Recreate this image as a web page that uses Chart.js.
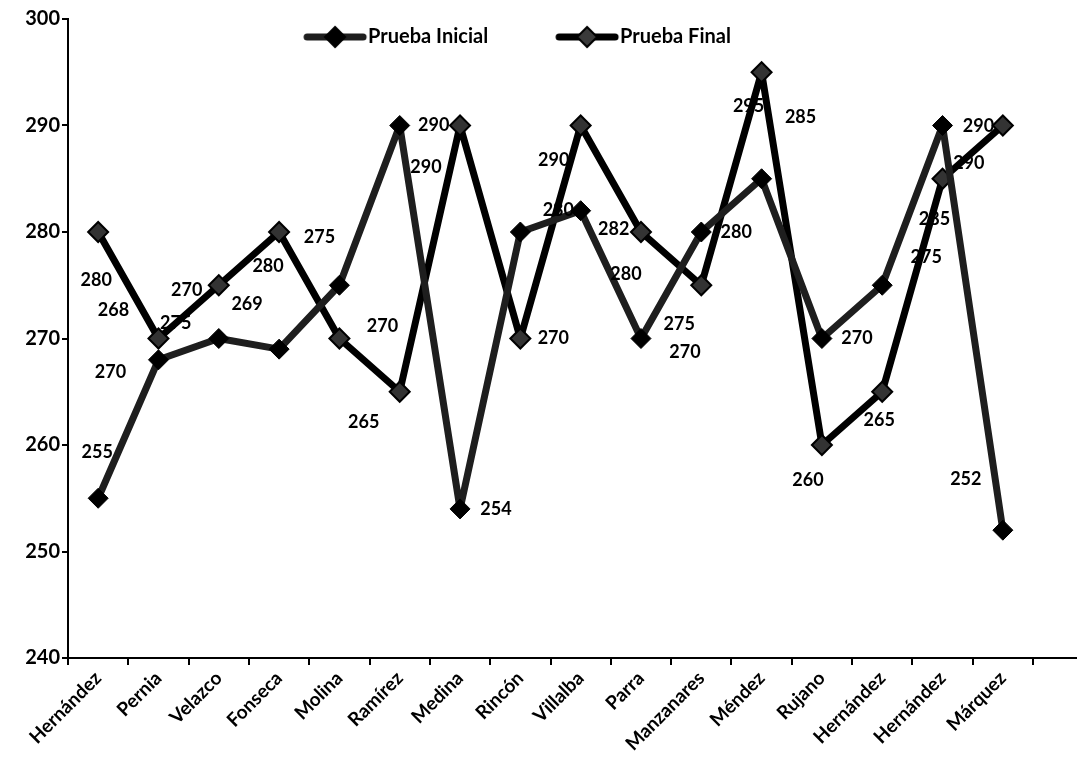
<!DOCTYPE html>
<html>
<head>
<meta charset="utf-8">
<script src="https://cdn.jsdelivr.net/npm/chart.js@4.4.0/dist/chart.umd.min.js"></script>
<style>
  html, body { margin: 0; padding: 0; background: #fff; }
  #wrap { width: 1083px; height: 763px; position: relative; }
</style>
</head>
<body>
<div id="wrap"><canvas id="linechart"></canvas></div>
<script>
const students = ['Hernández', 'Pernia', 'Velazco', 'Fonseca', 'Molina', 'Ramírez', 'Medina', 'Rincón',
    'Villalba', 'Parra', 'Manzanares', 'Méndez', 'Rujano', 'Hernández', 'Hernández', 'Márquez'];
const pruebaInicial = [255, 268, 270, 269, 275, 290, 254, 280, 282, 270, 280, 285, 270, 275, 290, 252];
const pruebaFinal = [280, 270, 275, 280, 270, 265, 290, 270, 290, 280, 275, 295, 260, 265, 285, 290];
const yMin = 240, yMax = 300, yStep = 10;

// where each value label sits relative to its point, in px [dx, dy]
const inicialLabelShift = [[-1, -46], [-45, -50], [-32, -48], [-32, -45], [-20, -48], [34, 0], [36, 0], [38, -22],
    [33, 18], [44, 14], [35, 0], [39, -62], [35, 0], [44, -28], [36, 1], [-37, -51]];
const finalLabelShift = [[-2, 48], [-48, 34], [-43, 38], [-11, 34], [43, -12], [-36, 30], [-34, 42], [33, 0],
    [-27, 35], [-15, 42], [-22, 39], [-13, 34], [-14, 35], [-3, 28], [-8, 40], [-34, 38]];

const FONT = 'Lato, "Open Sans", sans-serif';

// small line + diamond sample used in the legend
function legendIcon(lineColor, fill, stroke) {
    const c = document.createElement('canvas');
    c.width = 66; c.height = 24;
    const g = c.getContext('2d');
    g.strokeStyle = lineColor;
    g.lineWidth = 7;
    g.lineCap = 'round';
    g.beginPath(); g.moveTo(5, 12); g.lineTo(61, 12); g.stroke();
    g.fillStyle = fill;
    g.strokeStyle = stroke;
    g.lineWidth = 2;
    g.beginPath();
    g.moveTo(33, 2); g.lineTo(43, 12); g.lineTo(33, 22); g.lineTo(23, 12);
    g.closePath(); g.fill(); g.stroke();
    return c;
}

const valueLabels = {
    id: 'valueLabels',
    afterDatasetsDraw(chart) {
        const ctx = chart.ctx;
        ctx.save();
        ctx.font = 'bold 18px ' + FONT;
        ctx.fillStyle = '#000';
        ctx.textAlign = 'center';
        ctx.textBaseline = 'middle';
        chart.data.datasets.forEach(function (ds, di) {
            const shifts = di === 0 ? inicialLabelShift : finalLabelShift;
            chart.getDatasetMeta(di).data.forEach(function (pt, i) {
                ctx.fillText(ds.data[i], pt.x + shifts[i][0], pt.y + shifts[i][1]);
            });
        });
        ctx.restore();
    }
};

const topLegend = {
    id: 'topLegend',
    afterDraw(chart) {
        const ctx = chart.ctx;
        ctx.save();
        ctx.font = 'bold 20px ' + FONT;
        ctx.textBaseline = 'middle';
        ctx.fillStyle = '#000';
        const icons = [legendIcon('#1e1e1e', '#000', '#000'), legendIcon('#000', '#3a3a3a', '#000')];
        const gap = 66;
        const widths = chart.data.datasets.map(ds => 66 + ctx.measureText(ds.label).width);
        const total = widths[0] + widths[1] + gap;
        let x = chart.chartArea.right / 2 - total / 2;
        const y = 37;
        chart.data.datasets.forEach(function (ds, i) {
            ctx.drawImage(icons[i], x, y - 12);
            ctx.fillText(ds.label, x + 66, y);
            x += widths[i] + gap;
        });
        ctx.restore();
    }
};

// axis line in the reference runs a little past the last tick
const axisTail = {
    id: 'axisTail',
    afterDraw(chart) {
        const ctx = chart.ctx;
        const a = chart.chartArea;
        ctx.save();
        ctx.strokeStyle = '#000';
        ctx.lineWidth = 2;
        ctx.beginPath();
        ctx.moveTo(a.right, a.bottom);
        ctx.lineTo(a.right + 44, a.bottom);
        ctx.stroke();
        ctx.restore();
    }
};

const ctx = document.getElementById('linechart').getContext('2d');
const linechart = new Chart(ctx, {
    type: 'line',
    data: {
        labels: students,
        datasets: [{
            label: 'Prueba Inicial',
            data: pruebaInicial,
            borderColor: '#1e1e1e',
            borderWidth: 7,
            borderJoinStyle: 'round',
            pointStyle: 'rectRot',
            pointRadius: 10,
            pointBackgroundColor: '#000',
            pointBorderColor: '#000',
            pointBorderWidth: 1,
            tension: 0
        }, {
            label: 'Prueba Final',
            data: pruebaFinal,
            borderColor: '#000',
            borderWidth: 7,
            borderJoinStyle: 'round',
            pointStyle: 'rectRot',
            pointRadius: 10,
            pointBackgroundColor: '#333',
            pointBorderColor: '#000',
            pointBorderWidth: 2,
            tension: 0
        }]
    },
    options: {
        responsive: true,
        maintainAspectRatio: false,
        animation: false,
        layout: { padding: { left: 0, right: 50, top: 19, bottom: 0 } },
        plugins: {
            legend: { display: false },
            tooltip: { enabled: false }
        },
        scales: {
            x: {
                offset: true,
                grid: { offset: true, drawOnChartArea: false, drawTicks: true, tickLength: 7, color: '#000', lineWidth: 2 },
                border: { color: '#000', width: 2 },
                ticks: {
                    color: '#000',
                    font: { family: FONT, size: 19, weight: 'bold' },
                    minRotation: 45,
                    maxRotation: 45,
                    autoSkip: false,
                    padding: 2
                },
                afterFit: function (scale) { scale.height = 105; }
            },
            y: {
                min: yMin,
                max: yMax,
                ticks: {
                    stepSize: yStep,
                    color: '#000',
                    font: { family: FONT, size: 20, weight: 'bold' },
                    padding: 2
                },
                grid: { drawOnChartArea: false, drawTicks: true, tickLength: 6, color: '#000', lineWidth: 2 },
                border: { color: '#000', width: 2 },
                afterFit: function (scale) { scale.width = 68; }
            }
        }
    },
    plugins: [valueLabels, topLegend, axisTail]
});
</script>
</body>
</html>
